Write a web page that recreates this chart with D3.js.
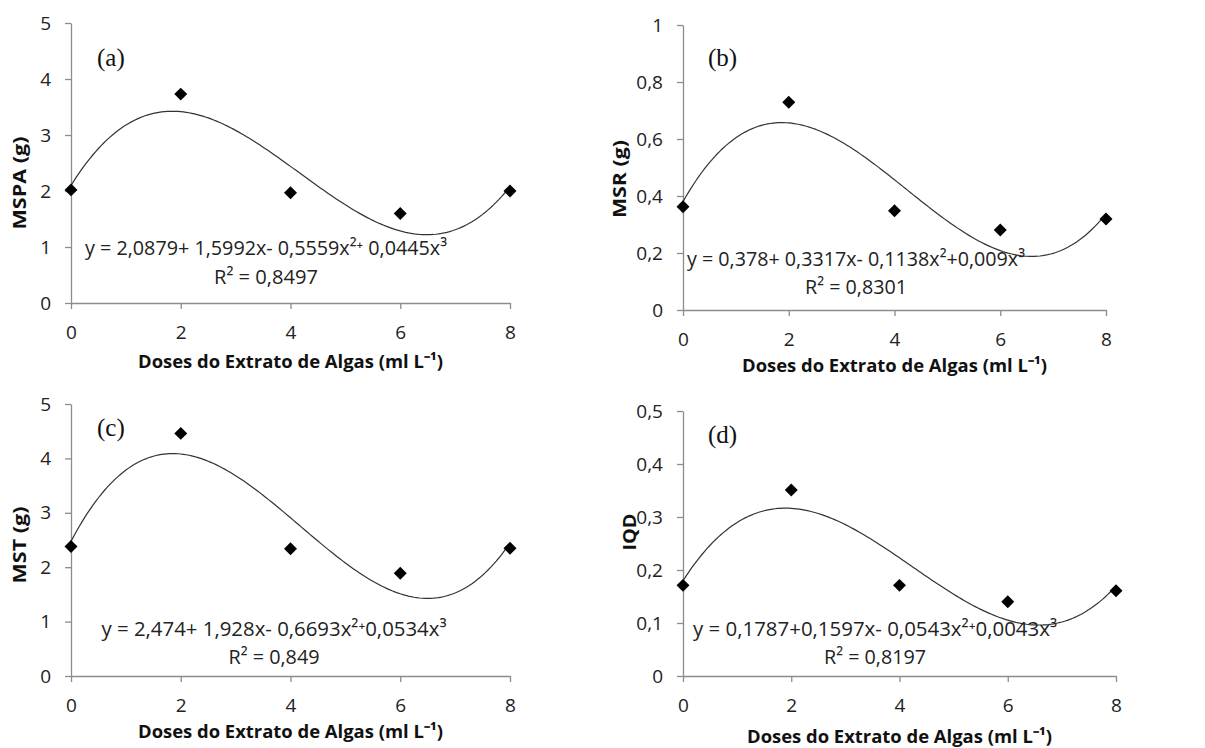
<!DOCTYPE html>
<html>
<head>
<meta charset="utf-8">
<script src="https://cdn.jsdelivr.net/npm/d3@7"></script>
<style>
  body { margin: 0; background: #fff; }
  svg { display: block; }
  .tick-label { font-family: "Open Sans", sans-serif; font-size: 19px; fill: #222; }
  .axis-title { font-family: "Open Sans", sans-serif; font-weight: bold; font-size: 18.5px; fill: #111; }
  .eq { font-family: "Open Sans", "DejaVu Sans", sans-serif; font-size: 20.5px; fill: #222; }
  .panel-tag { font-family: "Liberation Serif", "Times New Roman", serif; font-size: 25px; fill: #111; }
</style>
</head>
<body>
<svg id="chart" width="1205" height="748"></svg>
<script>
// doses (x values)
const doses = [0, 2, 4, 6, 8];

// observed means per variable
const mspa = [2.02, 3.73, 1.97, 1.60, 2.00];
const msr = [0.362, 0.729, 0.348, 0.281, 0.319];
const mst = [2.38, 4.46, 2.34, 1.89, 2.35];
const iqd = [0.171, 0.351, 0.171, 0.140, 0.161];

// y tick values
const ticksA = [0, 1, 2, 3, 4, 5];
const ticksB = [0, 0.2, 0.4, 0.6, 0.8, 1];
const ticksC = [0, 1, 2, 3, 4, 5];
const ticksD = [0, 0.1, 0.2, 0.3, 0.4, 0.5];

const yTitles = ["MSPA (g)", "MSR (g)", "MST (g)", "IQD"];
const xTitle = "Doses do Extrato de Algas (ml L\u207B\u00B9)";
const tags = ["(a)", "(b)", "(c)", "(d)"];
const r2 = ["R\u00B2 = 0,8497", "R\u00B2 = 0,8301", "R\u00B2 = 0,849", "R\u00B2 = 0,8197"];
const equations = [
  "y = 2,0879+ 1,5992x- 0,5559x\u00B2\u207A 0,0445x\u00B3",
  "y = 0,378+ 0,3317x- 0,1138x\u00B2+0,009x\u00B3",
  "y = 2,474+ 1,928x- 0,6693x\u00B2\u207A0,0534x\u00B3",
  "y = 0,1787+0,1597x- 0,0543x\u00B2\u207A0,0043x\u00B3"
];

const panels = [
  { y: mspa, ticks: ticksA, L: 71, R: 510, T: 23, B: 303,
    eqX: 266, eqY: 248, eqW: 362, r2Y: 277, r2W: 104, tagX: 97, tagY: 57, ytX: 20, ytY: 183, ytW: 93, xtY: 362 },
  { y: msr, ticks: ticksB, L: 683, R: 1106, T: 25, B: 310,
    eqX: 856, eqY: 259, eqW: 338, r2Y: 287, r2W: 102, tagX: 708, tagY: 57, ytX: 620, ytY: 179, ytW: 78, xtY: 366 },
  { y: mst, ticks: ticksC, L: 71, R: 510, T: 404, B: 676,
    eqX: 274, eqY: 629, eqW: 345, r2Y: 657, r2W: 91, tagX: 97, tagY: 427, ytX: 20, ytY: 545, ytW: 77, xtY: 732 },
  { y: iqd, ticks: ticksD, L: 683, R: 1116, T: 411, B: 676,
    eqX: 875, eqY: 629, eqW: 364, r2Y: 657, r2W: 102, tagX: 708, tagY: 434, ytX: 630, ytY: 532, ytW: 37, xtY: 737 }
];

// least-squares cubic trend (same as the spreadsheet trendline)
function cubicFit(xs, ys) {
  const n = 4;
  const A = d3.range(n).map(r => d3.range(n + 1).map(c =>
    c < n ? d3.sum(xs, x => Math.pow(x, r + c)) : d3.sum(xs, (x, k) => ys[k] * Math.pow(x, r))));
  for (let c = 0; c < n; c++) {
    let piv = c;
    for (let r = c + 1; r < n; r++) if (Math.abs(A[r][c]) > Math.abs(A[piv][c])) piv = r;
    [A[c], A[piv]] = [A[piv], A[c]];
    for (let r = 0; r < n; r++) {
      if (r === c) continue;
      const f = A[r][c] / A[c][c];
      for (let k = c; k <= n; k++) A[r][k] -= f * A[c][k];
    }
  }
  return A.map((row, r) => row[n] / row[r]);
}

const svg = d3.select("#chart");
const fmt = v => String(+v.toFixed(2)).replace(".", ",");
const axisColor = "#8c8c8c";

panels.forEach((p, i) => {
  const g = svg.append("g");
  const x = d3.scaleLinear().domain([0, 8]).range([p.L, p.R]);
  const y = d3.scaleLinear().domain([0, p.ticks[p.ticks.length - 1]]).range([p.B, p.T]);

  // y axis
  const ya = g.append("g").attr("transform", `translate(${p.L},0)`)
    .call(d3.axisLeft(y).tickValues(p.ticks).tickSize(6).tickSizeOuter(0).tickFormat(fmt).tickPadding(14));
  // x axis
  const xa = g.append("g").attr("transform", `translate(0,${p.B})`)
    .call(d3.axisBottom(x).tickValues(doses).tickSize(6).tickSizeOuter(0).tickPadding(17));
  [ya, xa].forEach(a => {
    a.select(".domain").attr("stroke", axisColor).attr("stroke-width", 1.3);
    a.selectAll(".tick line").attr("stroke", axisColor).attr("stroke-width", 1.3);
    a.selectAll(".tick text").attr("class", "tick-label").attr("font-size", null).attr("font-family", null).attr("fill", null);
  });

  // trend line
  const coef = cubicFit(doses, p.y);
  const poly = t => coef[0] + coef[1] * t + coef[2] * t * t + coef[3] * t * t * t;
  const xs = d3.range(0, 8.001, 0.05);
  g.append("path")
    .attr("d", d3.line().x(t => x(t)).y(t => y(poly(t)))(xs))
    .attr("fill", "none").attr("stroke", "#333").attr("stroke-width", 1.2);

  // points (diamonds)
  g.selectAll(".pt").data(doses.map((d, k) => [d, p.y[k]])).join("path")
    .attr("class", "pt")
    .attr("d", d3.symbol(d3.symbolSquare, 84)())
    .attr("transform", d => `translate(${x(d[0])},${y(d[1])}) rotate(45)`)
    .attr("fill", "#000");

  // equation + R²
  g.append("text").attr("class", "eq")
    .attr("x", p.eqX).attr("y", p.eqY).attr("dy", "0.35em").attr("text-anchor", "middle")
    .attr("textLength", p.eqW).attr("lengthAdjust", "spacingAndGlyphs")
    .text(equations[i]);
  g.append("text").attr("class", "eq")
    .attr("x", p.eqX).attr("y", p.r2Y).attr("dy", "0.35em").attr("text-anchor", "middle")
    .attr("textLength", p.r2W).attr("lengthAdjust", "spacingAndGlyphs")
    .text(r2[i]);

  // panel tag
  g.append("text").attr("class", "panel-tag").attr("x", p.tagX).attr("y", p.tagY).attr("dy", "0.35em").text(tags[i]);

  // y title
  g.append("text").attr("class", "axis-title")
    .attr("transform", `translate(${p.ytX},${p.ytY}) rotate(-90)`)
    .attr("text-anchor", "middle").attr("dy", "0.35em")
    .attr("textLength", p.ytW).attr("lengthAdjust", "spacingAndGlyphs").text(yTitles[i]);

  // x title
  g.append("text").attr("class", "axis-title")
    .attr("x", (p.L + p.R) / 2).attr("y", p.xtY).attr("dy", "0.35em").attr("text-anchor", "middle")
    .attr("textLength", 305).attr("lengthAdjust", "spacingAndGlyphs")
    .text(xTitle);
});
</script>
</body>
</html>
